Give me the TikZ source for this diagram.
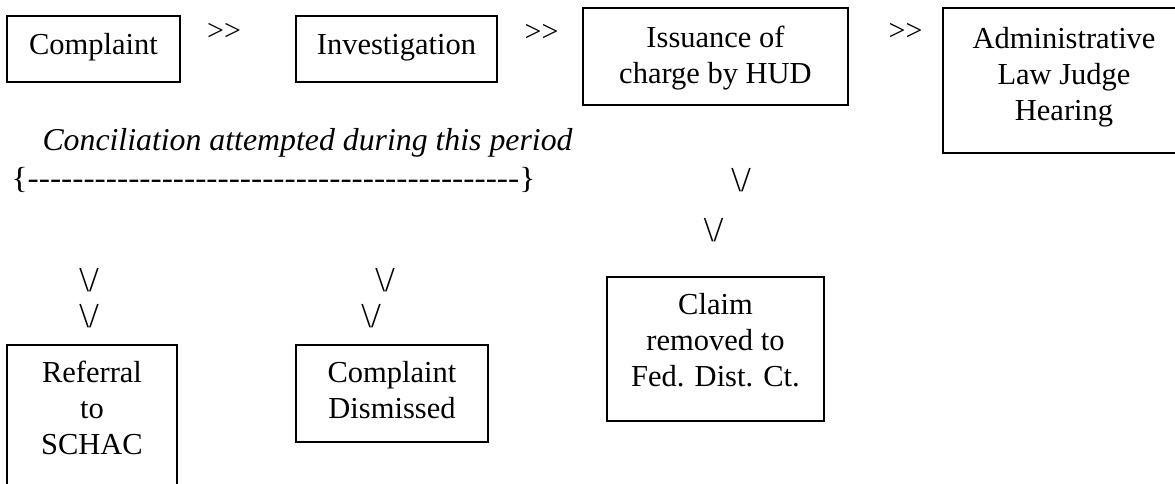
\documentclass[tikz,border=0pt]{standalone}
\usepackage{fontspec}
\usepackage{graphicx}
\setmainfont{Liberation Serif}
\begin{document}
\begin{tikzpicture}[x=1pt,y=-1pt,
  frame/.style={draw, line width=1.3pt, inner sep=0pt},
  txt/.style={inner sep=0pt, align=center, font=\fontsize{30.5}{36}\selectfont},
  gt/.style={inner sep=0pt, font=\fontsize{30}{30}\selectfont},
  vee/.style={inner sep=0pt, font=\fontsize{35}{35}\selectfont}]
\useasboundingbox (0,0) rectangle (1175,484);

% top row frames
\node[frame, minimum width=173pt, minimum height=66pt] (fcomp) at (93.5,49) {};
\node[frame, minimum width=201pt, minimum height=66pt] (finv) at (396.5,49) {};
\node[frame, minimum width=265pt, minimum height=97pt] (fiss) at (715.5,56.5) {};
\node[frame, minimum width=242pt, minimum height=145pt] (fadm) at (1064,80.5) {};
% bottom frames
\node[frame, minimum width=170pt, minimum height=160pt] (fref) at (92,425) {};
\node[frame, minimum width=192pt, minimum height=97pt] (fdis) at (392,393.5) {};
\node[frame, minimum width=217pt, minimum height=144pt] (fclm) at (715.5,349) {};

% texts
\node[txt, anchor=base] (tcomp) at (93.5,55) {Complaint};
\node[txt, anchor=base] (tinv) at (396.5,55) {Investigation};
\node[txt] (tiss) at (715.5,58) {Issuance of\\charge by HUD};
\node[txt] (tadm) at (1064,77) {Administrative\\Law Judge\\Hearing};
\node[txt] (tref) at (92,408) {Referral\\to\\SCHAC};
\node[txt] (tdis) at (392,390) {Complaint\\Dismissed};
\node[txt] (tclm) at (715.5,340) {Claim\\removed to\\Fed. Dist. Ct.};

% conciliation
\node[txt, anchor=base, font=\fontsize{31.8}{36}\selectfont\itshape] (tcon) at (307.5,150) {Conciliation attempted during this period};
\node[txt] (tbrace) at (273.5,180) {\scalebox{1.1}[1]{\{-{}-{}-{}-{}-{}-{}-{}-{}-{}-{}-{}-{}-{}-{}-{}-{}-{}-{}-{}-{}-{}-{}-{}-{}-{}-{}-{}-{}-{}-{}-{}-{}-{}-{}-{}-{}-{}-{}-{}-{}-{}-{}-{}-{}\}}};

% >> marks
\node[gt] (g1) at (224,32) {>{}>};
\node[gt] (g2) at (541.5,32.5) {>{}>};
\node[gt] (g3) at (905.5,31.5) {>{}>};

% \/ marks
\node[vee] (v1) at (741,180) {\textbackslash/};
\node[vee] (v2) at (713.5,230) {\textbackslash/};
\node[vee] (v3) at (89,280) {\textbackslash/};
\node[vee] (v4) at (89,316) {\textbackslash/};
\node[vee] (v5) at (385,280) {\textbackslash/};
\node[vee] (v6) at (371,316) {\textbackslash/};
\end{tikzpicture}
\end{document}
